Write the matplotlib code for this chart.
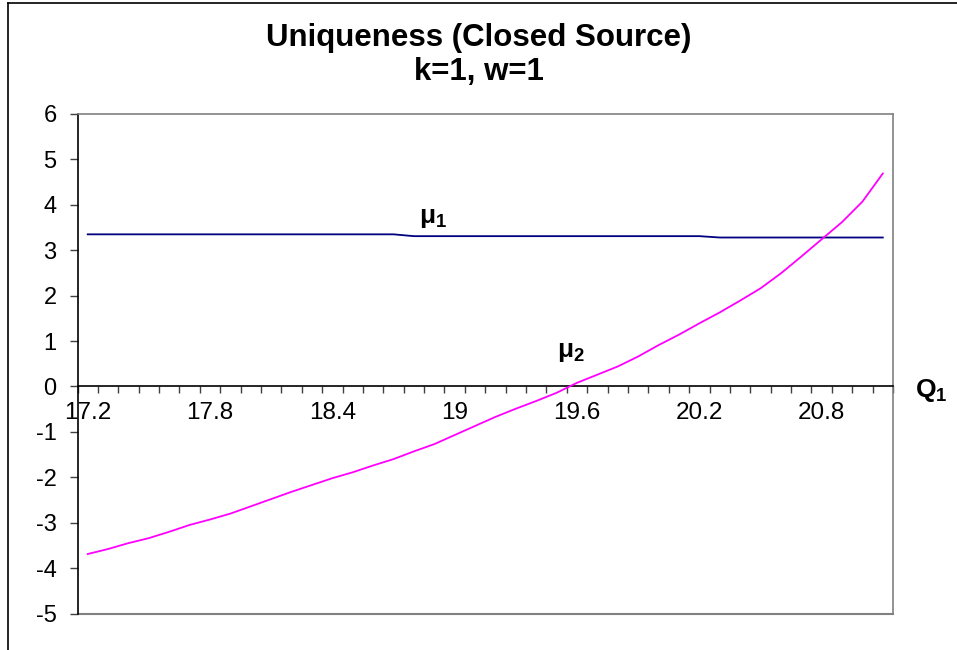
import numpy as np
import matplotlib
matplotlib.use('Agg')
from matplotlib import pyplot as plt
from matplotlib.lines import Line2D

plt.rcParams['font.family'] = ['Liberation Sans', 'DejaVu Sans']
plt.rcParams['mathtext.fontset'] = 'custom'
plt.rcParams['mathtext.rm'] = 'Liberation Sans'
plt.rcParams['mathtext.bf'] = 'Liberation Sans:bold'

# categories on the Q1 axis (17.2 .. 21.1, step 0.1)
q1 = ['17.2', '17.3', '17.4', '17.5', '17.6', '17.7', '17.8', '17.9', '18', '18.1',
      '18.2', '18.3', '18.4', '18.5', '18.6', '18.7', '18.8', '18.9', '19', '19.1',
      '19.2', '19.3', '19.4', '19.5', '19.6', '19.7', '19.8', '19.9', '20', '20.1',
      '20.2', '20.3', '20.4', '20.5', '20.6', '20.7', '20.8', '20.9', '21', '21.1']

mu1 = [3.35] * 16 + [3.31] * 15 + [3.28] * 9

mu2 = [-3.69, -3.58, -3.45, -3.34, -3.20, -3.05, -2.93, -2.80, -2.64, -2.48,
       -2.32, -2.17, -2.02, -1.89, -1.74, -1.60, -1.43, -1.27, -1.07, -0.87,
       -0.67, -0.49, -0.32, -0.14, 0.08, 0.26, 0.44, 0.66, 0.91, 1.14,
       1.39, 1.63, 1.89, 2.16, 2.49, 2.86, 3.24, 3.62, 4.07, 4.69]

y_ticks = [-5, -4, -3, -2, -1, 0, 1, 2, 3, 4, 5, 6]

fig = plt.figure(figsize=(9.57, 6.5), dpi=100)
ax = fig.add_axes([77.5 / 957, 1 - 613.5 / 650, (893 - 77.5) / 957, (613.5 - 114) / 650])

x = np.arange(len(q1))
ax.plot(x, mu1, color='#000080', lw=1.3, zorder=3)
ax.plot(x, mu2, color='#FF00FF', lw=1.3, zorder=3)

ax.set_xlim(-0.5, len(q1) - 0.5)
ax.set_ylim(-5, 6)
ax.set_yticks(y_ticks)
ax.set_yticklabels([str(v) for v in y_ticks], fontsize=17)

# x axis crosses at 0
ax.spines['bottom'].set_position(('data', 0))
ax.spines['bottom'].set_color('black')
ax.spines['left'].set_color('black')
ax.spines['top'].set_color('#808080')
ax.spines['right'].set_color('#808080')
for s in ax.spines.values():
    s.set_linewidth(1.2)
ax.plot([0, 1], [0, 0], transform=ax.transAxes, color='#808080', lw=1.5, clip_on=False)

ax.set_xticks(x[::6])
ax.set_xticklabels(q1[::6], fontsize=17.5)
ax.set_xticks(np.arange(-0.5, len(q1), 1), minor=True)
ax.tick_params(axis='x', which='major', length=0, pad=11)
ax.tick_params(axis='x', which='minor', length=5, width=1, color='#404040', direction='out')
ax.tick_params(axis='y', length=6, width=1, color='#404040', direction='out', pad=9)

ax.text(16.95, 3.72, r'$\mathbf{\mu_1}$', fontsize=19, ha='center', va='center')
ax.text(23.7, 0.75, r'$\mathbf{\mu_2}$', fontsize=19, ha='center', va='center')
ax.text(41.4, -0.1, r'$\mathbf{Q_1}$', fontsize=19, ha='center', va='center', clip_on=False)

fig.text(479 / 957, 1 - 38 / 650, 'Uniqueness (Closed Source)', fontsize=22.5,
         fontweight='bold', ha='center', va='center')
fig.text(479 / 957, 1 - 72 / 650, 'k=1, w=1', fontsize=22.5,
         fontweight='bold', ha='center', va='center')

# outer frame of the chart
fig.add_artist(Line2D([8 / 957, 1], [1 - 3 / 650, 1 - 3 / 650], color='black', lw=1.2))
fig.add_artist(Line2D([8 / 957, 8 / 957], [0, 1 - 3 / 650], color='black', lw=1.2))

fig.savefig('out.png', dpi=100)
